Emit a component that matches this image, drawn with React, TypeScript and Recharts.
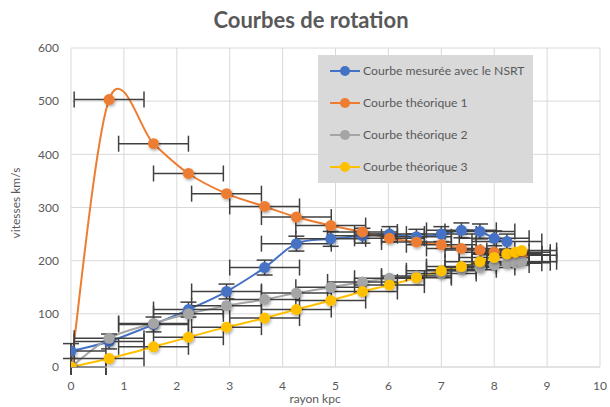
import React from 'react';
import { ComposedChart, Line, Scatter, XAxis, YAxis, CartesianGrid, ErrorBar } from 'recharts';

// radius (kpc) of each measurement / model point
const radius = [0, 0.72, 1.56, 2.22, 2.94, 3.66, 4.26, 4.91, 5.51, 6.02, 6.53, 7.0, 7.38, 7.73, 8.0, 8.24, 8.4, 8.52];
// velocities (km/s)
const measured = [30, 48, 80, 108, 142, 187, 232, 241, 247, 250, 245, 250, 257, 255, 242, 236];
const theory1 = [0, 503, 420, 364, 326, 302, 282, 266, 254, 242, 235, 230, 223, 220, 216, 212, 211, 210];
const theory2 = [0, 54, 82, 100, 115, 127, 139, 150, 160, 167, 171, 176, 183, 187, 192, 195, 196, 198];
const theory3 = [0, 16, 38, 56, 75, 92, 108, 125, 142, 154, 168, 181, 189, 198, 206, 213, 216, 219];
// error sizes: [below, above] along the radius, symmetric on velocity
const radiusError = 0.66;
const measuredError = 14;

const xTicks = [0, 1, 2, 3, 4, 5, 6, 7, 8, 9, 10];
const yTicks = [0, 100, 200, 300, 400, 500, 600];

const seriesNames = ['Courbe mesurée avec le NSRT', 'Courbe théorique 1', 'Courbe théorique 2', 'Courbe théorique 3'];
const seriesColors = ['#4472C4', '#ED7D31', '#A5A5A5', '#FFC000'];

const build = (vals: number[], ey?: number) =>
  vals.map((v, i) => ({
    x: radius[i],
    y: v,
    ex: [Math.min(radiusError, radius[i]), radiusError],
    ...(ey !== undefined ? { ey } : {}),
  }));

const seriesData = [build(measured, measuredError), build(theory1), build(theory2), build(theory3)];

// Excel-like smoothed line (Catmull-Rom as cubic Bezier)
const excelSmooth = (context: any) => {
  let pts: number[][] = [];
  return {
    areaStart() {},
    areaEnd() {},
    lineStart() {
      pts = [];
    },
    point(x: number, y: number) {
      pts.push([+x, +y]);
    },
    lineEnd() {
      const n = pts.length;
      if (n === 0) return;
      context.moveTo(pts[0][0], pts[0][1]);
      for (let i = 0; i < n - 1; i++) {
        const p0 = pts[i - 1] || pts[i];
        const p1 = pts[i];
        const p2 = pts[i + 1];
        const p3 = pts[i + 2] || p2;
        context.bezierCurveTo(
          p1[0] + (p2[0] - p0[0]) / 6,
          p1[1] + (p2[1] - p0[1]) / 6,
          p2[0] - (p3[0] - p1[0]) / 6,
          p2[1] - (p3[1] - p1[1]) / 6,
          p2[0],
          p2[1]
        );
      }
    },
  };
};

const textColor = '#595959';
const font = 'Lato, "Open Sans", sans-serif';

export default function App() {
  return (
    <div style={{ position: 'absolute', left: 0, top: 0, width: 610, height: 407, background: '#fff', overflow: 'hidden', fontFamily: font }}>
      <svg width={0} height={0} style={{ position: 'absolute' }}>
        <defs>
          <filter id="mshadow" x="-50%" y="-50%" width="200%" height="200%">
            <feDropShadow dx="1" dy="1.5" stdDeviation="1.5" floodColor="#000" floodOpacity="0.35" />
          </filter>
        </defs>
      </svg>
      <ComposedChart width={610} height={407} margin={{ top: 48, right: 10, bottom: 0, left: 0 }}>
        <CartesianGrid stroke="#d9d9d9" strokeWidth={1} />
        <XAxis
          type="number"
          dataKey="x"
          domain={[0, 10]}
          ticks={xTicks}
          allowDataOverflow
          height={40}
          tickSize={0}
          tickMargin={14}
          axisLine={{ stroke: '#d9d9d9' }}
          tick={{ fill: textColor, fontSize: 12, fontFamily: font }}
        />
        <YAxis
          type="number"
          domain={[0, 600]}
          ticks={yTicks}
          allowDataOverflow
          width={71}
          tickSize={0}
          tickMargin={12}
          axisLine={false}
          tick={{ fill: textColor, fontSize: 12, fontFamily: font }}
        />
        {seriesData.map((d, i) => (
          <Line
            key={'l' + i}
            data={d}
            dataKey="y"
            type={excelSmooth as any}
            stroke={seriesColors[i]}
            strokeWidth={2}
            dot={false}
            activeDot={false}
            isAnimationActive={false}
          />
        ))}
        {seriesData.map((d, i) => (
          <Scatter
            key={'s' + i}
            data={d}
            dataKey="y"
            fill={seriesColors[i]}
            isAnimationActive={false}
            shape={(p: any) => (
              <circle cx={p.cx} cy={p.cy} r={5.5} fill={seriesColors[i]} filter="url(#mshadow)" />
            )}
          >
            <ErrorBar dataKey="ex" direction="x" width={8} stroke="#404040" strokeWidth={1.5} />
            {i === 0 ? <ErrorBar dataKey="ey" direction="y" width={8} stroke="#404040" strokeWidth={1.5} /> : null}
          </Scatter>
        ))}
      </ComposedChart>

      <div style={{ position: 'absolute', left: 0, width: 622, top: 7, textAlign: 'center', fontSize: 22, fontWeight: 700, color: textColor, lineHeight: '26px' }}>
        Courbes de rotation
      </div>

      <div
        style={{
          position: 'absolute',
          left: 15,
          top: 203,
          transform: 'translate(-50%, -50%) rotate(-90deg)',
          fontSize: 12,
          color: textColor,
          whiteSpace: 'nowrap',
        }}
      >
        vitesses km/s
      </div>

      <div style={{ position: 'absolute', left: 215, width: 200, top: 392, textAlign: 'center', fontSize: 12, color: textColor, lineHeight: '14px' }}>
        rayon kpc
      </div>

      <div style={{ position: 'absolute', left: 318, top: 55, width: 215, height: 128, background: '#d9d9d9' }}>
        {seriesNames.map((name, i) => (
          <div key={name} style={{ position: 'absolute', left: 0, top: 16 + i * 32 - 8, height: 16, width: 215 }}>
            <svg width={32} height={16} style={{ position: 'absolute', left: 11, top: 0 }}>
              <line x1={1} y1={8} x2={31} y2={8} stroke={seriesColors[i]} strokeWidth={2} />
              <circle cx={16} cy={8} r={5} fill={seriesColors[i]} />
            </svg>
            <span style={{ position: 'absolute', left: 45, top: 0, lineHeight: '16px', fontSize: 12.2, color: textColor, whiteSpace: 'nowrap' }}>
              {name}
            </span>
          </div>
        ))}
      </div>
    </div>
  );
}
